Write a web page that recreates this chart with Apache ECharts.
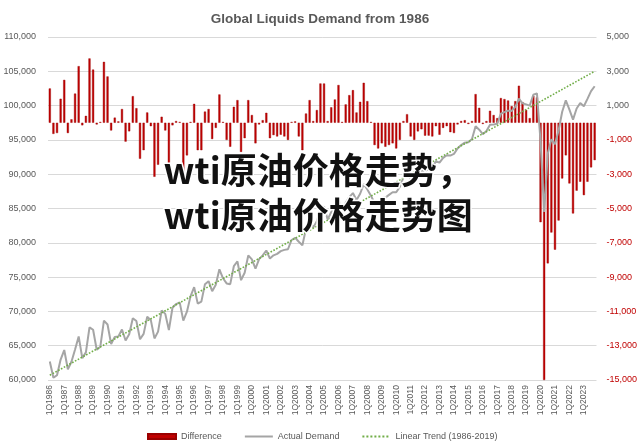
<!DOCTYPE html>
<html><head><meta charset="utf-8">
<script src="https://cdn.jsdelivr.net/npm/echarts@6/dist/echarts.min.js"></script>
<style>html,body{margin:0;padding:0;background:#fff}#c{width:640px;height:442px}</style>
</head><body><div id="c"></div>
<script>
var years = [];
for (var y = 1986; y <= 2023; y++) years.push(y);
var quarters = [];
years.forEach(function (y) { for (var q = 1; q <= 4; q++) quarters.push(q + 'Q' + y); });

var difference = [
  2000, -650, -600, 1400,   2500, -600, 200, 1700,   3300, -150, 400, 3750,   3100, -100, 50, 3550,
  2700, -450, 300, 80,      800, -1100, -500, 1550,  850, -2100, -1600, 600,  -200, -3150, -2450, 350,
  -450, -3100, -150, 100,   50, -2900, -1900, 50,    1100, -1600, -1600, 650,  800, -950, -300, 1650,
  50, -1000, -1400, 930,    1320, -1700, -900, 1320, 450, -1200, -100, 150,   580, -900, -720, -800,
  -700, -800, -1000, 50,    80, -800, -1600, 540,    1320, 100, 740, 2290,    2290, 100, 900, 1360,
  2200, 50, 1070, 1610,     1900, 600, 1220, 2330,   1260, 50, -1300, -1500,  -1200, -1400, -1300, -1200,
  -1500, -1000, 100, 500,   -800, -1000, -500, -380, -750, -750, -800, -200, -700, -300, -200, -550,
  -600, -100, 100, 150,     -70, 100, 1670, 870,     -70, 100, 700, 450,      270, 1440, 1380, 1300,
  970, 1260, 2160, 1200,    750, 270, 1570, 1480,    -5800, -15000, -8200, -6400, -7400, -5700, -3250, -1900,
  -3540, -5290, -3960, -3440, -4220, -3440, -2600, -2180
];

var actualDemand = [
  62700, 60340, 60690, 62980,  64370, 61570, 62660, 64450,  66350, 63190, 64030, 67680,  67320, 64410, 64860, 68650,
  68090, 65240, 66280, 66360,  67370, 65760, 66660, 69000,  68590, 65940, 66730, 69220,  68720, 66060, 67050, 70150,
  69640, 67280, 70530, 71070,  71310, 68660, 69950, 72190,  73540, 71130, 71420, 73970,  74410, 72950, 73900, 76140,
  74830, 74080, 73970, 76590,  77280, 74550, 75640, 78160,  77580, 76220, 77620, 78160,  78880, 77700, 78170, 78380,
  78780, 78970, 79060, 80410,  80730, 80150, 79640, 82070,  83150, 82220, 83150, 85000,  85290, 83390, 84490, 85240,
  86370, 84520, 85830, 86660,  87250, 86240, 87150, 88560,  87780, 86860, 85810, 85900,  86490, 86590, 86980, 87370,
  87370, 88160, 89550, 90250,  89240, 89330, 90130, 90540,  90460, 90760, 91000, 91890,  91690, 92380, 92770, 92720,
  92960, 93750, 94250, 94590,  94660, 95130, 96990, 96490,  95840, 96300, 97200, 97240,  97350, 98820, 99050, 99260,
  99230, 99810, 101000, 100340, 100180, 99990, 101590, 101790, 94800, 84500, 92990, 95080, 94380, 96370, 99110, 100760,
  99410, 97950, 99580, 100390, 99900, 100980, 102110, 102820
];

var trendStart = ['1Q1986', 60700];
var trendEnd = ['4Q2023', 105000];

var leftTicks = { min: 60000, max: 110000, step: 5000 };
var rightTicks = { min: -15000, max: 5000, step: 2000 };

function fmt(v) { return v.toLocaleString('en-US'); }

var chart = echarts.init(document.getElementById('c'), null, { renderer: 'canvas' });
var FONT = 'Liberation Sans';
chart.setOption({
  animation: false,
  textStyle: { fontFamily: FONT },
  title: {
    text: 'Global Liquids Demand from 1986', left: 'center', top: 7,
    textStyle: { fontSize: 13.5, fontWeight: 'bold', color: '#595959', fontFamily: FONT }
  },
  grid: { left: 48, right: 42, top: 37, bottom: 62 },
  legend: {
    left: 142, top: 427, itemWidth: 28, itemHeight: 5, itemGap: 22,
    textStyle: { fontSize: 9, color: '#595959', fontFamily: FONT },
    data: [
      { name: 'Difference', icon: 'rect' },
      { name: 'Actual Demand', itemStyle: { opacity: 0 } },
      { name: 'Linear Trend (1986-2019)', itemStyle: { opacity: 0 } }
    ]
  },
  xAxis: {
    type: 'category', data: quarters, boundaryGap: true,
    axisLine: { show: false }, axisTick: { show: false },
    axisLabel: { interval: 3, rotate: 90, fontSize: 8.5, color: '#595959', margin: 5 }
  },
  yAxis: [
    {
      type: 'value', min: leftTicks.min, max: leftTicks.max, interval: leftTicks.step,
      axisLine: { show: false }, axisTick: { show: false },
      splitLine: { lineStyle: { color: '#D9D9D9', width: 1 } },
      axisLabel: { fontSize: 9, color: '#595959', margin: 12, formatter: fmt }
    },
    {
      type: 'value', min: rightTicks.min, max: rightTicks.max, interval: rightTicks.step,
      axisLine: { show: false }, axisTick: { show: false }, splitLine: { show: false },
      axisLabel: {
        fontSize: 9, margin: 10, formatter: fmt,
        color: function (v) { return Number(v) < 0 ? '#C00000' : '#595959'; }
      }
    }
  ],
  series: [
    {
      name: 'Difference', type: 'bar', yAxisIndex: 1, data: difference, barWidth: '58%',
      itemStyle: { color: '#C00000', borderColor: '#9A0000', borderWidth: 0.4 }, z: 2
    },
    {
      name: 'Actual Demand', type: 'line', yAxisIndex: 0, data: actualDemand, showSymbol: false, symbol: 'none',
      lineStyle: { color: '#A5A5A5', width: 2 }, itemStyle: { color: '#A5A5A5' }, z: 3
    },
    {
      name: 'Linear Trend (1986-2019)', type: 'line', yAxisIndex: 0, data: [trendStart, trendEnd],
      showSymbol: false, symbol: 'none',
      lineStyle: { color: '#70AD47', width: 1.6, type: 'dotted' }, itemStyle: { color: '#70AD47' }, z: 4
    }
  ],
  graphic: [{
    type: 'text', left: 162, top: 148, z: 100,
    style: {
      text: 'wti原油价格走势，\nwti原油价格走势图',
      font: 'bold 36px "Noto Sans CJK SC"', lineHeight: 45,
      fill: '#111111', stroke: '#ffffff', lineWidth: 3
    }
  }]
});
</script></body></html>
